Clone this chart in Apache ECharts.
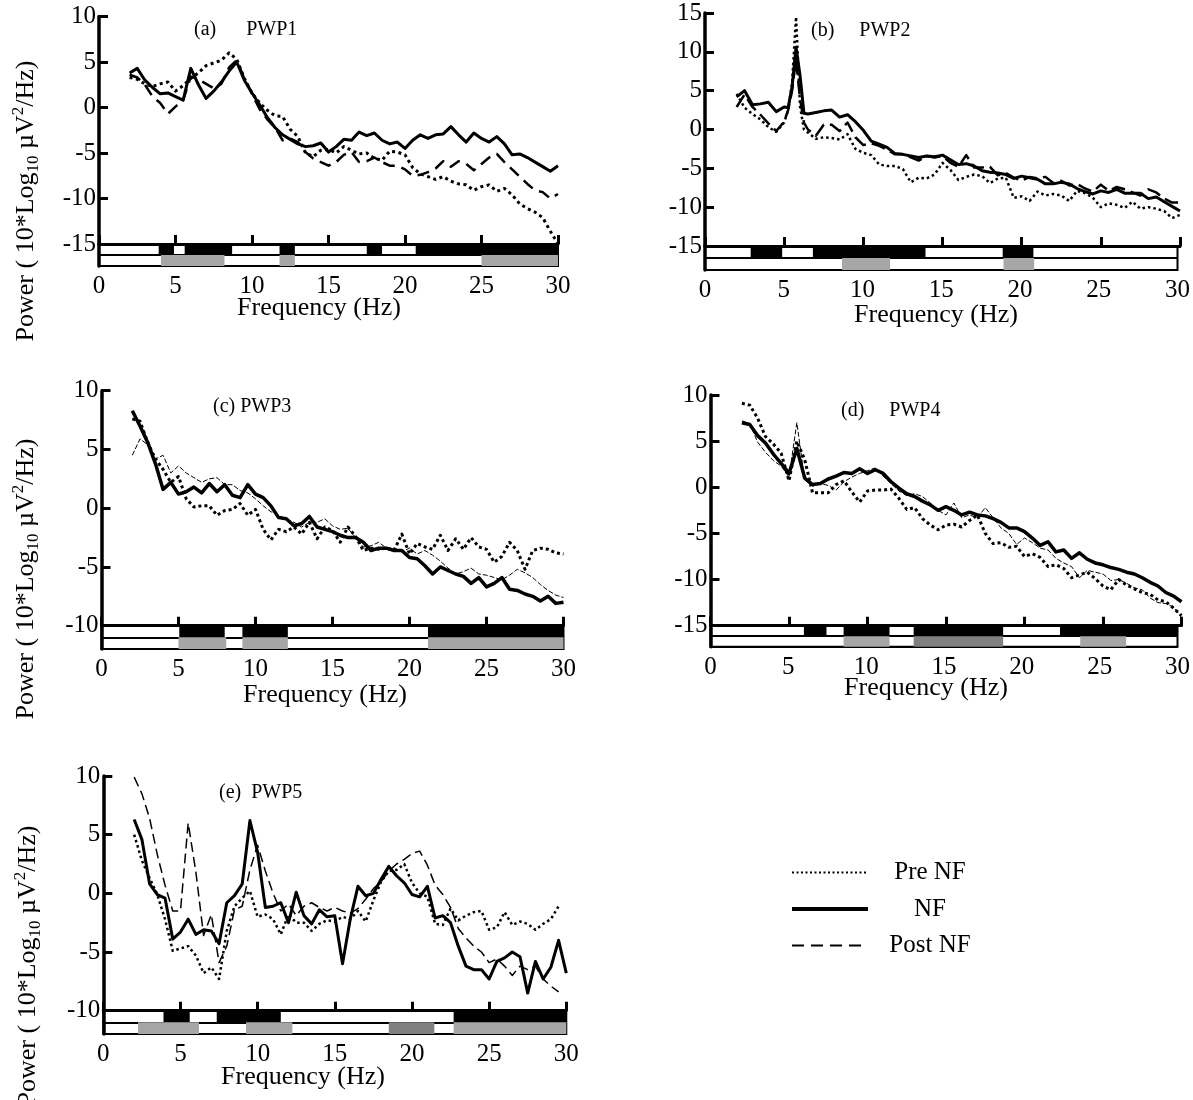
<!DOCTYPE html>
<html>
<head>
<meta charset="utf-8">
<title>PWP power spectra</title>
<script src="https://cdn.jsdelivr.net/npm/echarts@6/dist/echarts.min.js"></script>
<style>
	html, body { margin: 0; padding: 0; background: #fff; }
	#chart { width: 1193px; height: 1100px; }
</style>
</head>
<body>
<div id="chart"></div>
<script>
	// frequency grid (Hz)
	var FREQ = [2, 2.5, 3, 3.5, 4, 4.5, 5, 5.5, 6, 6.5, 7, 7.5, 8, 8.5, 9, 9.5, 10, 10.5, 11, 11.5,
		12, 12.5, 13, 13.5, 14, 14.5, 15, 15.5, 16, 16.5, 17, 17.5, 18, 18.5, 19, 19.5, 20, 20.5, 21, 21.5,
		22, 22.5, 23, 23.5, 24, 24.5, 25, 25.5, 26, 26.5, 27, 27.5, 28, 28.5, 29, 29.5, 30];
	// PWP2 has a sharp peak near 5.8 Hz, so a finer step there
	var FREQ_B = [2, 2.5, 3, 3.5, 4, 4.5, 5, 5.25, 5.5, 5.75, 6, 6.25, 6.5, 7, 7.5, 8, 8.5, 9, 9.5, 10,
		10.5, 11, 11.5, 12, 12.5, 13, 13.5, 14, 14.5, 15, 15.5, 16, 16.5, 17, 17.5, 18, 18.5, 19, 19.5, 20,
		20.5, 21, 21.5, 22, 22.5, 23, 23.5, 24, 24.5, 25, 25.5, 26, 26.5, 27, 27.5, 28, 28.5, 29, 29.5, 30];

	// (a) PWP1
	var PWP1_PRE = [3.3, 3.1, 2.6, 2.3, 2.6, 2.8, 1.8, 2.4, 3.2, 3.8,
		4.6, 4.9, 5.2, 6.0, 5.3, 3.2, 1.6, 0.5, -0.3, -0.9,
		-1.0, -2.4, -3.2, -5.0, -5.4, -4.7, -4.6, -5.0, -4.3, -4.7,
		-5.1, -5.0, -5.6, -5.8, -4.8, -4.9, -5.2, -6.6, -7.3, -7.6,
		-7.9, -7.6, -8.1, -8.4, -8.5, -9.1, -8.7, -8.5, -9.2, -8.9,
		-9.6, -10.6, -11.1, -11.5, -12.1, -13.6, -15.0];
	var PWP1_NF = [3.8, 4.3, 3.0, 2.2, 1.5, 1.6, 1.2, 0.8, 4.3, 2.5,
		1.0, 1.8, 2.8, 4.0, 5.0, 3.0, 1.6, 0.3, -1.1, -2.2,
		-3.0, -3.5, -4.0, -4.3, -4.2, -3.9, -4.9, -4.3, -3.5, -3.6,
		-2.7, -3.1, -2.8, -3.6, -4.0, -3.8, -4.5, -3.6, -3.0, -3.4,
		-3.0, -2.9, -2.1, -3.0, -3.8, -2.8, -3.4, -3.8, -3.2, -4.0,
		-5.2, -5.1, -5.5, -6.0, -6.5, -7.0, -6.4];
	var PWP1_POST = [3.6, 3.3, 2.5, 1.2, 0.5, -0.7, 0.1, 0.8, 3.4, 3.1,
		2.6, 2.1, 2.6, 4.4, 5.2, 3.2, 1.5, -0.2, -1.3, -2.2,
		-3.6, -3.4, -3.8, -4.9, -5.6, -6.0, -6.4, -6.0, -5.2, -4.9,
		-6.0, -5.9, -5.5, -6.0, -6.4, -6.4, -6.8, -7.5, -7.4, -7.1,
		-6.7, -5.9, -6.5, -5.9, -6.2, -6.9, -6.2, -5.5, -5.1, -6.0,
		-6.8, -7.6, -8.4, -9.1, -9.3, -10.0, -9.5];

	// (b) PWP2
	var PWP2_PRE = [4.6, 2.8, 2.0, 1.3, 0.3, -0.3, 0.9, 2.5, 6.0, 14.5, 3.0, 0.0,
		-0.4, -1.2, -1.0, -1.1, -1.3, -0.6, -2.5, -3.0, -3.3, -4.5,
		-4.7, -4.7, -5.1, -6.8, -6.2, -6.3, -5.8, -4.3, -5.2, -6.5,
		-6.1, -5.8, -6.0, -6.9, -6.3, -6.2, -8.8, -8.6, -9.2, -8.0,
		-8.5, -8.3, -8.5, -9.2, -7.9, -8.2, -8.8, -10.0, -9.5, -9.7,
		-10.1, -9.3, -10.2, -10.0, -10.2, -10.5, -11.4, -11.0];
	var PWP2_NF = [4.2, 5.0, 3.2, 3.3, 3.5, 2.3, 2.9, 2.8, 5.5, 10.6, 7.0, 2.1,
		2.0, 2.2, 2.4, 2.5, 1.6, 1.9, 1.0, -0.1, -1.5, -1.9,
		-2.3, -3.1, -3.2, -3.4, -3.6, -3.4, -3.5, -3.3, -3.9, -4.5,
		-4.4, -4.7, -5.3, -5.5, -5.6, -5.8, -6.3, -6.0, -6.2, -6.4,
		-7.0, -7.0, -6.8, -7.0, -7.6, -8.0, -8.3, -7.9, -8.1, -7.7,
		-8.2, -8.2, -8.2, -8.9, -8.7, -9.3, -9.9, -10.5];
	var PWP2_POST = [2.9, 4.5, 2.9, 1.9, 0.8, -0.2, 1.0, 2.5, 5.0, 9.0, 4.0, 0.9,
		0.0, -0.8, 0.6, 0.6, -0.2, 0.9, -1.0, -2.0, -1.8, -2.1,
		-2.6, -3.2, -3.2, -3.6, -4.0, -3.4, -3.6, -3.4, -4.3, -4.8,
		-3.3, -4.9, -4.9, -4.8, -5.9, -5.6, -6.2, -6.6, -6.1, -6.3,
		-6.1, -6.9, -6.6, -7.2, -7.0, -7.6, -8.0, -7.1, -7.9, -7.4,
		-7.7, -8.1, -8.5, -7.7, -8.1, -8.9, -9.4, -9.4];

	// (c) PWP3
	var PWP3_PRE = [7.6, 7.4, 5.6, 4.2, 3.3, 2.2, 2.7, 0.8, 0.1, 0.2,
		0.2, -0.6, -0.2, -0.1, 0.4, -0.6, -0.1, -1.8, -2.7, -1.8,
		-2.0, -1.6, -2.2, -1.2, -2.6, -1.6, -1.9, -2.9, -1.6, -2.4,
		-3.6, -3.4, -3.5, -3.4, -3.6, -2.2, -3.9, -3.0, -3.3, -3.5,
		-2.3, -3.6, -2.6, -3.5, -2.5, -3.3, -3.5, -4.6, -4.1, -2.9,
		-3.6, -5.2, -3.6, -3.4, -3.5, -3.8, -3.9];
	var PWP3_NF = [8.3, 7.0, 5.6, 3.8, 1.6, 2.2, 1.2, 1.4, 1.8, 1.3,
		2.1, 1.4, 2.0, 1.1, 0.9, 2.0, 1.2, 0.9, 0.2, -0.8,
		-0.9, -1.5, -1.3, -0.7, -1.6, -1.8, -2.0, -2.3, -2.5, -2.5,
		-2.9, -3.6, -3.4, -3.4, -3.6, -3.6, -4.2, -4.3, -4.9, -5.6,
		-5.0, -5.3, -5.6, -5.8, -6.4, -5.9, -6.7, -6.4, -5.9, -6.9,
		-7.0, -7.3, -7.5, -7.9, -7.5, -8.1, -8.0];
	var PWP3_POST = [4.5, 5.9, 5.4, 4.2, 4.5, 3.0, 3.6, 3.0, 2.6, 2.2,
		2.5, 2.6, 2.0, 2.0, 1.5, 1.3, 0.8, 0.2, -0.3, -0.6,
		-1.0, -1.2, -1.6, -1.2, -1.2, -0.9, -1.5, -1.8, -1.7, -2.5,
		-3.3, -3.2, -2.9, -3.4, -3.4, -3.7, -3.4, -3.9, -3.6, -4.0,
		-4.5, -5.1, -5.6, -5.4, -5.1, -5.6, -5.7, -5.9, -6.1, -5.7,
		-5.2, -5.5, -5.9, -6.5, -7.0, -7.4, -7.6];

	// (d) PWP4
	var PWP4_PRE = [9.1, 8.9, 7.5, 5.5, 4.7, 3.7, 0.7, 5.0, 3.0, -0.6,
		-0.6, -0.6, 0.3, 0.7, -0.5, -1.6, -0.4, -0.3, -0.3, -0.2,
		-1.2, -2.4, -2.2, -3.4, -4.1, -4.6, -4.1, -4.0, -4.3, -3.6,
		-3.0, -5.0, -6.1, -6.0, -6.5, -6.4, -7.5, -7.2, -7.6, -8.6,
		-8.4, -8.8, -9.8, -9.5, -9.2, -9.9, -10.7, -11.1, -10.0, -10.6,
		-11.0, -11.4, -11.6, -12.2, -12.4, -13.1, -13.9];
	var PWP4_NF = [7.0, 6.8, 5.6, 4.8, 3.6, 2.6, 1.5, 4.2, 1.0, 0.3,
		0.4, 0.9, 1.2, 1.6, 1.5, 2.0, 1.5, 1.9, 1.5, 0.6,
		-0.1, -0.7, -1.0, -1.5, -1.9, -2.5, -2.1, -2.5, -3.0, -2.7,
		-3.0, -3.1, -3.4, -3.8, -4.4, -4.4, -4.8, -5.5, -6.3, -5.9,
		-7.0, -6.8, -7.7, -7.1, -7.8, -8.2, -8.4, -8.7, -8.9, -9.2,
		-9.4, -9.8, -10.3, -10.7, -11.4, -11.8, -12.4];
	var PWP4_POST = [7.2, 6.9, 4.9, 3.8, 2.9, 2.3, 1.1, 7.0, 0.8, 0.1,
		0.4, 0.2, -0.3, 0.6, 1.1, 1.5, 1.8, 2.1, 1.2, 0.4,
		-0.4, -0.9, -0.7, -1.0, -1.7, -2.5, -3.0, -1.7, -3.3, -3.0,
		-3.3, -2.2, -3.3, -4.4, -5.0, -6.2, -5.5, -6.0, -6.6, -6.8,
		-7.7, -8.2, -8.6, -9.8, -9.0, -9.2, -9.4, -10.1, -10.0, -10.4,
		-10.9, -11.1, -12.0, -12.5, -12.6, -13.0, -14.1];

	// (e) PWP5
	var PWP5_PRE = [5.0, 2.8, 1.3, -0.1, -2.2, -4.9, -4.7, -4.5, -5.3, -6.8,
		-6.3, -7.3, -3.2, -1.1, -0.4, 0.2, -2.0, -1.8, -2.2, -3.5,
		-1.8, -2.5, -2.5, -3.2, -2.6, -2.3, -2.4, -2.0, -2.2, -1.5,
		-2.4, -0.6, 1.0, 1.9, 2.0, 2.5, 0.9, 0.0, -0.3, -2.6,
		-2.7, -1.3, -2.3, -1.9, -1.6, -1.5, -3.1, -2.9, -1.6, -2.7,
		-2.4, -2.6, -3.1, -2.6, -2.2, -1.1, null];
	var PWP5_NF = [6.3, 4.6, 0.8, -0.1, -0.4, -3.9, -3.3, -2.2, -3.5, -3.1,
		-3.2, -4.3, -0.8, -0.2, 0.8, 6.2, 3.5, -1.2, -1.1, -0.8,
		-2.5, 0.1, -1.9, -2.6, -1.4, -2.0, -1.9, -6.0, -2.2, 0.6,
		-0.2, 0.0, 1.2, 2.3, 1.5, 0.9, -0.1, -0.3, 0.6, -2.1,
		-1.9, -2.5, -4.5, -6.2, -6.5, -6.5, -7.3, -5.8, -5.5, -5.0,
		-5.4, -8.5, -5.8, -7.3, -6.3, -4.0, -6.8];
	var PWP5_POST = [9.9, 8.5, 6.4, 3.3, 0.7, -1.5, -1.5, 6.0, 1.8, -3.6,
		-1.8, -5.9, -4.5, -1.4, -1.1, 2.0, 4.1, 1.9, 0.0, -1.5,
		-0.9, -1.9, -1.1, -0.8, -1.2, -1.5, -1.2, -1.5, -1.7, -1.3,
		-0.5, 0.4, 1.0, 1.9, 2.5, 2.9, 3.4, 3.6, 2.4, 0.7,
		-0.1, -1.2, -3.0, -3.8, -4.5, -5.0, -5.9, -5.6, -6.2, -7.0,
		-6.2, -6.5, -6.2, -7.3, -7.9, -8.4, null];

	// significance strips: upper row [from, to], lower row [from, to, level]
	var SIG1_TOP = [[3.9, 4.9], [5.6, 8.7], [11.8, 12.8], [17.5, 18.5], [20.7, 30]];
	var SIG1_LOW = [[4.05, 8.2, 1], [11.8, 12.8, 1], [25, 30, 1]];
	var SIG2_TOP = [[2.9, 4.9], [6.85, 14.0], [18.9, 20.85]];
	var SIG2_LOW = [[8.7, 11.75, 1], [18.95, 20.9, 1]];
	var SIG3_TOP = [[5.05, 8.0], [9.15, 12.1], [21.2, 30]];
	var SIG3_LOW = [[5.0, 8.1, 1], [9.15, 12.1, 1], [21.2, 30, 1]];
	var SIG4_TOP = [[6.0, 7.45], [8.55, 11.5], [13.05, 18.8], [22.45, 30]];
	var SIG4_LOW = [[8.55, 11.5, 1], [13.05, 18.8, 2], [23.75, 26.7, 1]];
	var SIG5_TOP = [[3.9, 5.6], [7.35, 11.5], [22.7, 30]];
	var SIG5_LOW = [[2.25, 6.2, 1], [9.25, 12.25, 1], [18.5, 21.45, 2], [22.7, 30, 1]];

	var FONT = '"Liberation Serif", "Times New Roman", serif';
	var LEVEL_COLOUR = { 3: '#000000', 2: '#808080', 1: '#a6a6a6' };

	var panels = [
		{ left: 99, top: 16.5, width: 459, height: 227.5, band: 22, yMin: -15, yMax: 10,
			freq: FREQ, pre: PWP1_PRE, nf: PWP1_NF, post: PWP1_POST, sigTop: SIG1_TOP, sigLow: SIG1_LOW,
			title: '(a)      PWP1', tx: 194, ty: 20, xName: [319, 308], yName: [26, 201],
			preLine: { width: 3, type: [3, 3.5] }, nfLine: { width: 3 }, postLine: { width: 2.5, type: [12, 7] } },
		{ left: 705, top: 13, width: 475, height: 233, band: 24, yMin: -15, yMax: 15,
			freq: FREQ_B, pre: PWP2_PRE, nf: PWP2_NF, post: PWP2_POST, sigTop: SIG2_TOP, sigLow: SIG2_LOW,
			title: '(b)     PWP2', tx: 811, ty: 21, xName: [936, 315], yName: null,
			preLine: { width: 2.5, type: [2.5, 3] }, nfLine: { width: 3 }, postLine: { width: 2.5, type: [14, 6] } },
		{ left: 101.5, top: 390.7, width: 462, height: 235, band: 23.3, yMin: -10, yMax: 10,
			freq: FREQ, pre: PWP3_PRE, nf: PWP3_NF, post: PWP3_POST, sigTop: SIG3_TOP, sigLow: SIG3_LOW,
			title: '(c) PWP3', tx: 213, ty: 397, xName: [325, 695], yName: [26, 579],
			preLine: { width: 3, type: [3, 3] }, nfLine: { width: 3.5 }, postLine: { width: 1, type: [5, 2] } },
		{ left: 710.5, top: 395, width: 471, height: 230.7, band: 21, yMin: -15, yMax: 10,
			freq: FREQ, pre: PWP4_PRE, nf: PWP4_NF, post: PWP4_POST, sigTop: SIG4_TOP, sigLow: SIG4_LOW,
			title: '(d)     PWP4', tx: 841, ty: 401, xName: [926, 688], yName: null,
			preLine: { width: 3, type: [3, 3] }, nfLine: { width: 3.5 }, postLine: { width: 1, type: [5, 2] } },
		{ left: 103.3, top: 776, width: 463, height: 234.7, band: 23.3, yMin: -10, yMax: 10,
			freq: FREQ, pre: PWP5_PRE, nf: PWP5_NF, post: PWP5_POST, sigTop: SIG5_TOP, sigLow: SIG5_LOW,
			title: '(e)  PWP5', tx: 219, ty: 783, xName: [303, 1077], yName: [28, 966],
			preLine: { width: 2.5, type: [2.5, 3] }, nfLine: { width: 3 }, postLine: { width: 1.5, type: [10, 5] } }
	];

	function pairs(freq, vals) {
		return freq.map(function(f, i) { return [f, vals[i]]; });
	}

	function lineSeries(name, idx, freq, vals, style) {
		return {
			type: 'line', name: name, xAxisIndex: idx, yAxisIndex: idx,
			data: pairs(freq, vals), symbol: 'none', showSymbol: false, silent: true,
			lineStyle: { color: '#000', width: style.width, type: style.type || 'solid', cap: 'butt', join: 'round' }
		};
	}

	function renderBand(params, api) {
		var a = api.coord([api.value(0), api.value(2) + 1]);
		var b = api.coord([api.value(1), api.value(2)]);
		return {
			type: 'rect',
			shape: { x: a[0], y: a[1], width: b[0] - a[0], height: b[1] - a[1] },
			style: { fill: LEVEL_COLOUR[api.value(3)] }
		};
	}

	var grids = [], xAxes = [], yAxes = [], series = [], titles = [], graphics = [];
	var tickStyle = { color: '#000', width: 3 };
	var labelStyle = { color: '#000', fontFamily: FONT, fontSize: 25 };

	panels.forEach(function(p, i) {
		var m = i * 2, s = i * 2 + 1;
		grids.push({ left: p.left, top: p.top, width: p.width, height: p.height });
		grids.push({ left: p.left, top: p.top + p.height, width: p.width, height: p.band,
			show: true, borderColor: '#000', borderWidth: 2, backgroundColor: 'transparent' });

		xAxes.push({ gridIndex: m, type: 'value', min: 0, max: 30, interval: 5,
			axisLine: { onZero: false, lineStyle: { color: '#000', width: 3 } },
			axisTick: { inside: true, length: 9, lineStyle: tickStyle },
			axisLabel: { show: false }, splitLine: { show: false } });
		xAxes.push({ gridIndex: s, type: 'value', min: 0, max: 30, interval: 5,
			axisLine: { show: false }, axisTick: { show: false },
			axisLabel: Object.assign({ margin: 8 }, labelStyle), splitLine: { show: false } });

		yAxes.push({ gridIndex: m, type: 'value', min: p.yMin, max: p.yMax, interval: 5,
			axisLine: { show: true, onZero: false, lineStyle: { color: '#000', width: 3.5 } },
			axisTick: { show: true, inside: true, length: 9, lineStyle: tickStyle },
			axisLabel: Object.assign({ margin: 3 }, labelStyle), splitLine: { show: false } });
		yAxes.push({ gridIndex: s, type: 'value', min: 0, max: 2, interval: 1,
			axisLine: { show: true, onZero: false, lineStyle: { color: '#000', width: 3.5 } },
			axisTick: { show: false }, axisLabel: { show: false },
			splitLine: { show: true, lineStyle: { color: '#000', width: 2 } } });

		series.push(lineSeries('Pre NF', m, p.freq, p.pre, p.preLine));
		series.push(lineSeries('NF', m, p.freq, p.nf, p.nfLine));
		series.push(lineSeries('Post NF', m, p.freq, p.post, p.postLine));

		var rows = p.sigTop.map(function(b) { return [b[0], b[1], 1, 3]; })
			.concat(p.sigLow.map(function(b) { return [b[0], b[1], 0, b[2]]; }));
		series.push({ type: 'custom', xAxisIndex: s, yAxisIndex: s, silent: true,
			encode: { x: [0, 1], y: 2 }, renderItem: renderBand, data: rows, z: 3 });

		titles.push({ text: p.title, left: p.tx, top: p.ty, padding: 0,
			textStyle: { fontFamily: FONT, fontSize: 20, fontWeight: 'normal', color: '#000' } });

		graphics.push({ type: 'text', x: p.xName[0], y: p.xName[1], silent: true,
			style: { text: 'Frequency (Hz)', fontFamily: FONT, fontSize: 26, fill: '#000',
				align: 'center', verticalAlign: 'middle' } });
		if (p.yName) {
			graphics.push({ type: 'text', x: p.yName[0], y: p.yName[1], rotation: Math.PI / 2, silent: true,
				style: { text: 'Power ( 10*Log{s|10} \u00b5V{p|2}/Hz)', fontFamily: FONT, fontSize: 26,
					lineHeight: 32, fill: '#000', align: 'center', verticalAlign: 'middle',
					rich: {
						s: { fontFamily: FONT, fontSize: 17, lineHeight: 17, verticalAlign: 'bottom', fill: '#000' },
						p: { fontFamily: FONT, fontSize: 17, lineHeight: 17, verticalAlign: 'top', fill: '#000' }
					} } });
		}
	});

	var option = {
		animation: false,
		backgroundColor: '#fff',
		title: titles,
		grid: grids,
		xAxis: xAxes,
		yAxis: yAxes,
		series: series,
		graphic: graphics,
		legend: {
			left: 790, top: 860, orient: 'vertical', padding: 0,
			itemWidth: 76, itemHeight: 14, itemGap: 11.5, selectedMode: false,
			itemStyle: { opacity: 0 },
			formatter: function(name) { return '{t|' + name + '}'; },
			textStyle: { color: '#000', fontFamily: FONT, fontSize: 25,
				rich: { t: { width: 114, align: 'center', color: '#000', fontFamily: FONT, fontSize: 25, lineHeight: 30 } } },
			data: [
				{ name: 'Pre NF', lineStyle: { color: '#000', width: 2, type: [2, 2.5] } },
				{ name: 'NF', lineStyle: { color: '#000', width: 4, type: 'solid' } },
				{ name: 'Post NF', lineStyle: { color: '#000', width: 2, type: [12, 7] } }
			]
		}
	};

	var chart = echarts.init(document.getElementById('chart'));
	chart.setOption(option);
</script>
</body>
</html>
